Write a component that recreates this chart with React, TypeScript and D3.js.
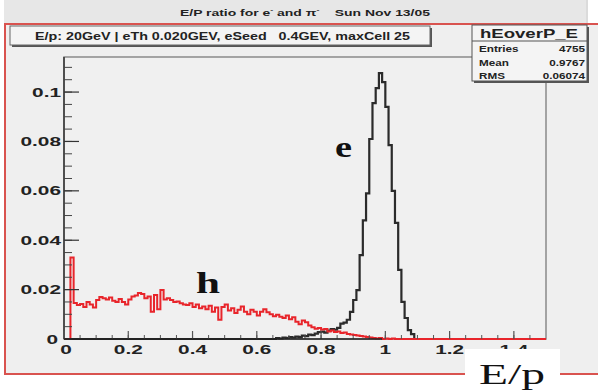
import * as d3 from "d3";

// E/p histograms, 0.01 wide bins starting at 0
const electronEoverP = [
  0, 0, 0, 0, 0, 0, 0, 0, 0, 0,
  0, 0, 0, 0, 0, 0, 0, 0, 0, 0,
  0, 0, 0, 0, 0, 0, 0, 0, 0, 0,
  0, 0, 0, 0, 0, 0, 0, 0, 0, 0,
  0, 0, 0, 0, 0, 0, 0, 0, 0, 0,
  0, 0, 0, 0, 0, 0, 0, 0, 0, 0,
  0, 0, 0, 0, 0, 0, 0.0004, 0.0002, 0.0006, 0.0004,
  0.0008, 0.0006, 0.001, 0.0008, 0.0014, 0.0012, 0.0018, 0.0016, 0.0022, 0.0028,
  0.003, 0.0026, 0.0034, 0.004, 0.0038, 0.0045, 0.0062, 0.0066, 0.0078, 0.011,
  0.0158, 0.0198, 0.034, 0.048, 0.059, 0.081, 0.0955, 0.1016, 0.1077, 0.104,
  0.094, 0.0785, 0.06, 0.047, 0.028, 0.015, 0.0085, 0.0036, 0.002, 0,
];

const hadronEoverP = [
  0, 0, 0.033, 0.0146, 0.0138, 0.0142, 0.013, 0.015, 0.014, 0.0128,
  0.0158, 0.017, 0.0165, 0.016, 0.0168, 0.0155, 0.015, 0.0162, 0.015, 0.014,
  0.016, 0.0172, 0.0176, 0.0186, 0.0182, 0.0165, 0.0172, 0.011, 0.0178, 0.012,
  0.0198, 0.016, 0.0165, 0.0158, 0.015, 0.0152, 0.0145, 0.014, 0.0138, 0.0145,
  0.013, 0.014, 0.0125, 0.0132, 0.012, 0.0135, 0.011, 0.0128, 0.0078, 0.013,
  0.014, 0.0115, 0.0125, 0.0105, 0.0118, 0.0132, 0.011, 0.01, 0.0118, 0.011,
  0.0095, 0.011, 0.012, 0.0108, 0.01, 0.0092, 0.0098, 0.009, 0.0085, 0.0095,
  0.008, 0.0088, 0.007, 0.006, 0.0075, 0.0068, 0.0055, 0.0048, 0.0042, 0.0045,
  0.0038, 0.004, 0.003, 0.0034, 0.0028, 0.003, 0.0024, 0.0026, 0.002, 0.0018,
  0.0016, 0.0014, 0.0012, 0.001, 0.0008, 0.0006, 0.0004, 0.0002, 0.0004, 0,
  0.0002, 0, 0.0002, 0,
];

const BIN_WIDTH = 0.01;
const X_MAX = 1.5;
const Y_MAX = 0.1142;

const xMajorTicks = [0, 0.2, 0.4, 0.6, 0.8, 1, 1.2, 1.4];
const xMinorTicks = d3.range(0, 1.5, 0.05);
const yMajorTicks = [0, 0.02, 0.04, 0.06, 0.08, 0.1];
const yMinorTicks = d3.range(0, 0.114, 0.005);

const statsRows = [
  ["Entries", "4755"],
  ["Mean", "0.9767"],
  ["RMS", "0.06074"],
];

const SANS = "'Liberation Sans', Arial, sans-serif";
const SERIF = "'Liberation Serif', 'DejaVu Serif', serif";

// the source picture is stretched sideways, so labels get a horizontal scale
function Wide({
  x,
  y,
  sx = 1.6,
  anchor = "start",
  size = 13,
  children,
}: {
  x: number;
  y: number;
  sx?: number;
  anchor?: "start" | "middle" | "end";
  size?: number;
  children: React.ReactNode;
}) {
  return (
    <text
      transform={`translate(${x},${y}) scale(${sx},1)`}
      fontSize={size}
      fontWeight="bold"
      textAnchor={anchor}
      fill="#222"
    >
      {children}
    </text>
  );
}

export default function App() {
  const W = 598;
  const H = 391;
  const mg = { left: 64, right: 546, top: 57, bottom: 339 };

  const x = d3.scaleLinear([0, X_MAX], [mg.left, mg.right]);
  const y = d3.scaleLinear([0, Y_MAX], [mg.bottom, mg.top]);

  const stepPath = (vals: number[]) => {
    const pts: [number, number][] = [[0, 0]];
    const n = Math.round(X_MAX / BIN_WIDTH);
    for (let i = 0; i < n; i++) pts.push([i * BIN_WIDTH, vals[i] ?? 0]);
    pts.push([X_MAX, 0]);
    return (
      d3
        .line<[number, number]>()
        .x((d) => x(d[0]))
        .y((d) => y(d[1]))
        .curve(d3.curveStepAfter)(pts) ?? ""
    );
  };

  return (
    <svg
      width={W}
      height={H}
      style={{ position: "absolute", left: 0, top: 0, background: "#fff" }}
      fontFamily={SANS}
    >
      {/* title bar */}
      <rect x={4} y={0} width={584} height={24} fill="#e7e7e7" />
      <line x1={587} y1={0} x2={587} y2={24} stroke="#cfcfcf" />
      <text
        x={180}
        y={16}
        fontSize={9.5}
        fontWeight="bold"
        fill="#222"
        textLength={250}
        lengthAdjust="spacingAndGlyphs"
        xmlSpace="preserve"
      >
        E/P ratio for e
        <tspan fontSize={6} dy={-4}>-</tspan>
        <tspan dy={4}> and π</tspan>
        <tspan fontSize={6} dy={-4}>-</tspan>
        <tspan dy={4}>{"    Sun Nov 13/05"}</tspan>
      </text>

      {/* canvas */}
      <rect x={5} y={24} width={600} height={350} fill="#efefef" stroke="#d9534f" strokeWidth={2} />

      {/* plot frame */}
      <rect
        x={mg.left}
        y={mg.top}
        width={mg.right - mg.left}
        height={mg.bottom - mg.top}
        fill="#f0f0f0"
        stroke="#8a8a8a"
        strokeWidth={1.5}
      />

      {/* histograms */}
      <path d={stepPath(electronEoverP)} fill="none" stroke="#2b2b2b" strokeWidth={2.2} />
      <path d={stepPath(hadronEoverP)} fill="none" stroke="#e8252b" strokeWidth={2} />

      {/* axes */}
      <line x1={mg.left} y1={mg.top} x2={mg.left} y2={mg.bottom} stroke="#333" strokeWidth={1.5} />
      {yMinorTicks.map((t) => (
        <line key={"ym" + t} x1={mg.left} x2={mg.left + 8} y1={y(t)} y2={y(t)} stroke="#444" />
      ))}
      {yMajorTicks.map((t) => (
        <g key={"y" + t}>
          <line x1={mg.left} x2={mg.left + 15} y1={y(t)} y2={y(t)} stroke="#333" strokeWidth={1.2} />
          <Wide x={t === 0 ? 58 : 61} y={y(t) + 4.5} anchor="end">
            {t}
          </Wide>
        </g>
      ))}
      {xMinorTicks.map((t) => (
        <line key={"xm" + t} x1={x(t)} x2={x(t)} y1={mg.bottom} y2={mg.bottom - 4} stroke="#555" />
      ))}
      {xMajorTicks.map((t) => (
        <g key={"x" + t}>
          <line x1={x(t)} x2={x(t)} y1={mg.bottom} y2={mg.bottom - 8} stroke="#555" strokeWidth={1.2} />
          <Wide x={x(t) + (t === 0 ? 2 : 0)} y={354} anchor="middle">
            {t}
          </Wide>
        </g>
      ))}
      <line x1={mg.left} y1={mg.bottom} x2={x(0.99)} y2={mg.bottom} stroke="#222" strokeWidth={1.5} />

      {/* subtitle box */}
      <rect x={12} y={28} width={420} height={19} fill="#555" />
      <rect x={10} y={26} width={420} height={19} fill="#f4f4f4" stroke="#666" />
      <text
        x={35}
        y={39.5}
        fontSize={10.5}
        fontWeight="bold"
        fill="#222"
        xmlSpace="preserve"
        textLength={375}
        lengthAdjust="spacingAndGlyphs"
      >
        {"E/p: 20GeV | eTh 0.020GEV, eSeed   0.4GEV, maxCell 25"}
      </text>

      {/* stats box */}
      <rect x={474} y={27} width={115} height={56} fill="#555" />
      <rect x={472} y={25} width={115} height={56} fill="#f4f4f4" stroke="#555" />
      <text
        x={480}
        y={38}
        fontSize={13}
        fontWeight="bold"
        fill="#222"
        textLength={98}
        lengthAdjust="spacingAndGlyphs"
      >
        hEoverP_E
      </text>
      <line x1={472} x2={587} y1={41} y2={41} stroke="#555" />
      {statsRows.map(([k, v], i) => (
        <g key={k}>
          <Wide x={479} y={52 + i * 13.5} size={9} sx={1.3}>
            {k}
          </Wide>
          <Wide x={585} y={52 + i * 13.5} size={9} sx={1.3} anchor="end">
            {v}
          </Wide>
        </g>
      ))}

      {/* annotations */}
      <text x={335} y={157} fontSize={30} fontWeight="bold" fontFamily={SERIF} fill="#111"
        textLength={17} lengthAdjust="spacingAndGlyphs">
        e
      </text>
      <text x={196} y={293} fontSize={29} fontWeight="bold" fontFamily={SERIF} fill="#111"
        textLength={24} lengthAdjust="spacingAndGlyphs">
        h
      </text>
      <rect x={465} y={349} width={95} height={42} fill="#fff" />
      <text x={479} y={384} fontSize={30} fontFamily={SERIF} fill="#111"
        textLength={66} lengthAdjust="spacingAndGlyphs">
        E/p
      </text>
    </svg>
  );
}
